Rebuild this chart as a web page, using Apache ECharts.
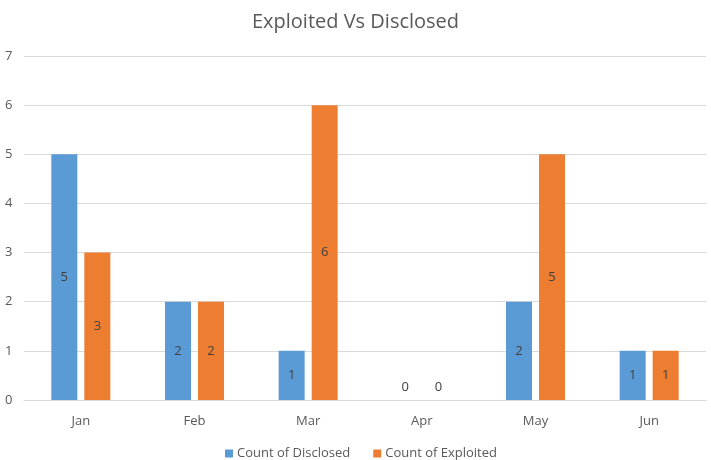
<!DOCTYPE html>
<html><head><meta charset="utf-8">
<script src="https://cdn.jsdelivr.net/npm/echarts@6/dist/echarts.min.js"></script>
<style>html,body{margin:0;padding:0;background:#fff}#c{width:711px;height:460px}</style>
</head><body><div id="c"></div>
<script>
const categories = ['Jan','Feb','Mar','Apr','May','Jun'];
const disclosed = [5,2,1,0,2,1];
const exploited = [3,2,6,0,5,1];
const yTicks = [0,1,2,3,4,5,6,7];

function toData(arr){
  return arr.map(v => v === 0 ? {value:v, label:{position:'top', distance:6}} : v);
}
const font = '"Open Sans", "Noto Sans", sans-serif';
const chart = echarts.init(document.getElementById('c'), null, {renderer:'canvas'});
chart.setOption({
  animation:false,
  title:{text:'Exploited Vs Disclosed', left:'center', top:7,
    textStyle:{fontFamily:font, fontSize:20, fontWeight:'normal', color:'#595959'}},
  legend:{top:442, left:220, itemWidth:8, itemHeight:8, itemGap:23, icon:'rect',
    textStyle:{fontFamily:font, fontSize:13, color:'#595959', padding:[0,0,0,-1]}},
  grid:{left:24, right:5, top:56, bottom:60, containLabel:false},
  xAxis:{type:'category', data:categories,
    axisLine:{lineStyle:{color:'#d9d9d9'}}, axisTick:{show:false},
    axisLabel:{fontFamily:font, fontSize:13, color:'#595959', margin:15}},
  yAxis:{type:'value', min:yTicks[0], max:yTicks[yTicks.length-1], interval:1,
    axisLine:{show:false}, axisTick:{show:false},
    splitLine:{lineStyle:{color:'#d9d9d9'}},
    axisLabel:{fontFamily:font, fontSize:13, color:'#595959', margin:19, align:'left'}},
  series:[
    {name:'Count of Disclosed', type:'bar', data:toData(disclosed), barWidth:26, barGap:'27%',
     itemStyle:{color:'#5B9BD5'},
     label:{show:true, position:'inside', fontFamily:font, fontSize:13, color:'#404040'}},
    {name:'Count of Exploited', type:'bar', data:toData(exploited), barWidth:26,
     itemStyle:{color:'#ED7D31'},
     label:{show:true, position:'inside', fontFamily:font, fontSize:13, color:'#404040'}}
  ]
});
</script></body></html>
